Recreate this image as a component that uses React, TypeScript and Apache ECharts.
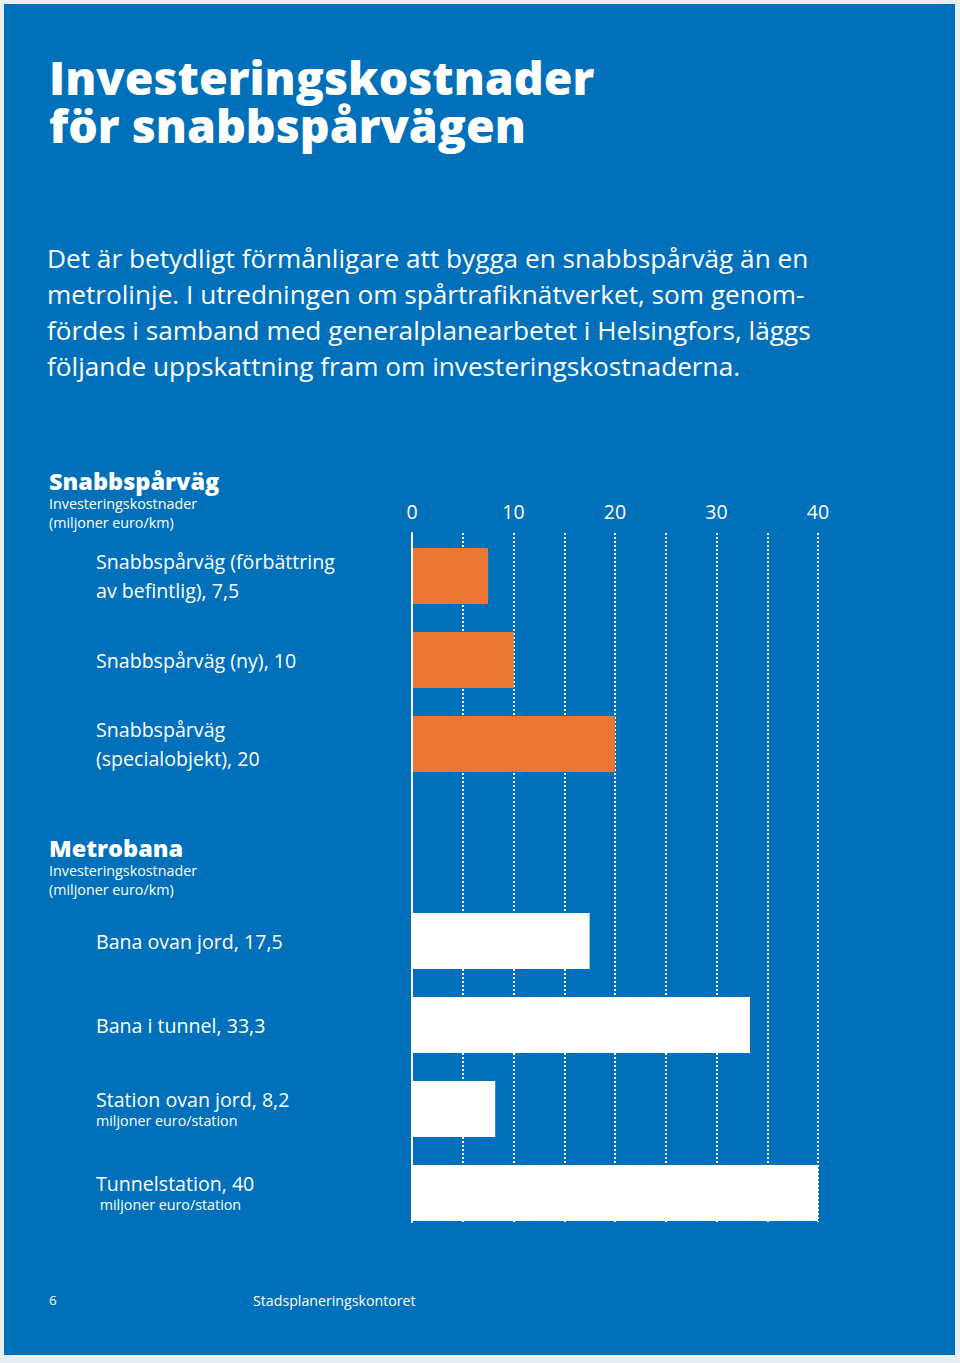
import React, { useEffect, useRef } from "react";
import * as echarts from "echarts";

const titleLines = ["Investeringskostnader", "för snabbspårvägen"];
const bodyLines = [
  "Det är betydligt förmånligare att bygga en snabbspårväg än en",
  "metrolinje. I utredningen om spårtrafiknätverket, som genom-",
  "fördes i samband med generalplanearbetet i Helsingfors, läggs",
  "följande uppskattning fram om investeringskostnaderna.",
];
const tramHeading = "Snabbspårväg";
const metroHeading = "Metrobana";
const headingSub = ["Investeringskostnader", "(miljoner euro/km)"];

const tramLabels = [
  "Snabbspårväg (förbättring\nav befintlig), 7,5",
  "Snabbspårväg (ny), 10",
  "Snabbspårväg\n(specialobjekt), 20",
];
const tramValues = [7.5, 10, 20];

const metroLabels = [
  "Bana ovan jord, 17,5",
  "Bana i tunnel, 33,3",
  "Station ovan jord, 8,2",
  "Tunnelstation, 40",
];
const metroSubLabels = ["", "", "miljoner euro/station", " miljoner euro/station"];
const metroValues = [17.5, 33.3, 8.2, 40];

const xTicks = [0, 10, 20, 30, 40];
const footerPage = "6";
const footerText = "Stadsplaneringskontoret";

const BLUE = "#0070ba";
const ORANGE = "#ec7634";
const WHITE = "#ffffff";
const FONT = "'Open Sans', sans-serif";

export default function App() {
  const ref = useRef<HTMLDivElement>(null);
  useEffect(() => {
    if (!ref.current) return;
    const chart = echarts.init(ref.current, null, { renderer: "svg" });
    const xMin = xTicks[0];
    const xMax = xTicks[xTicks.length - 1];

    const txt = (text: string, x: number, y: number, size: number, weight: any = "normal", extra: any = {}) => ({
      type: "text",
      x,
      y,
      z: 10,
      style: {
        text,
        fill: WHITE,
        fontSize: size,
        fontWeight: weight,
        fontFamily: FONT,
        textVerticalAlign: "middle",
        ...extra,
      },
    });

    const headingBlock = (title: string, top: number) => ({
      type: "text",
      x: 49,
      y: top,
      z: 10,
      style: {
        text: `{h|${title}}\n{s|${headingSub[0]}}\n{s|${headingSub[1]}}`,
        fill: WHITE,
        fontFamily: FONT,
        textVerticalAlign: "top",
        rich: {
          h: { fontSize: 23.5, fontWeight: 800, lineHeight: 25, fill: WHITE, fontFamily: FONT },
          s: { fontSize: 14.3, lineHeight: 19, fill: WHITE, fontFamily: FONT },
        },
      },
    });

    const graphics: any[] = [
      { type: "rect", z: -10, shape: { x: 4, y: 4, width: 951, height: 1351 }, style: { fill: BLUE } },
      {
        type: "text",
        x: 49,
        y: 53,
        z: 10,
        style: {
          text: titleLines.join("\n"),
          fill: WHITE,
          fontSize: 46.5,
          fontWeight: 800,
          fontFamily: FONT,
          lineHeight: 48,
          textVerticalAlign: "top",
        },
      },
      ...bodyLines.map((l, i) => txt(l, 47, 258 + i * 36, 26.2)),
      headingBlock(tramHeading, 468.5),
      headingBlock(metroHeading, 835.5),
      txt(footerPage, 49, 1300, 13.5),
      txt(footerText, 253, 1300, 14.2),
    ];

    const catAxisLabel = (lineHeight: number, subs?: string[]) => ({
      show: true,
      align: "left",
      margin: 316,
      color: WHITE,
      fontFamily: FONT,
      fontSize: 19.6,
      lineHeight,
      formatter: (v: string, i: number) => {
        const s = subs ? subs[i] : "";
        return s ? `${v}\n{sub|${s}}` : v;
      },
      rich: {
        sub: { fontSize: 14.3, lineHeight: 20, color: WHITE, fontFamily: FONT },
      },
    });

    const option: any = {
      animation: false,
      backgroundColor: "#e9eef3",
      graphic: graphics,
      grid: [
        { left: 412, right: 142, top: 533, height: 689 },
        { left: 412, right: 142, top: 534, height: 252 },
        { left: 412, right: 142, top: 899, height: 336 },
      ],
      xAxis: [
        {
          gridIndex: 0,
          type: "value",
          position: "top",
          min: xMin,
          max: xMax,
          interval: 5,
          axisLine: { show: false },
          axisTick: { show: false },
          axisLabel: {
            color: WHITE,
            fontFamily: FONT,
            fontSize: 19.5,
            margin: 12,
            formatter: (v: number) => (xTicks.includes(v) ? String(v) : ""),
          },
          splitLine: { show: true, lineStyle: { color: WHITE, width: 2, type: [2, 2] } },
        },
        { gridIndex: 1, type: "value", min: xMin, max: xMax, show: false },
        { gridIndex: 2, type: "value", min: xMin, max: xMax, show: false },
      ],
      yAxis: [
        {
          gridIndex: 0,
          type: "category",
          data: [""],
          z: 20,
          axisLine: { show: true, lineStyle: { color: WHITE, width: 2 } },
          axisTick: { show: false },
          axisLabel: { show: false },
          splitLine: { show: false },
        },
        {
          gridIndex: 1,
          type: "category",
          inverse: true,
          data: tramLabels,
          axisLine: { show: false },
          axisTick: { show: false },
          axisLabel: catAxisLabel(29),
        },
        {
          gridIndex: 2,
          type: "category",
          inverse: true,
          data: metroLabels,
          axisLine: { show: false },
          axisTick: { show: false },
          axisLabel: catAxisLabel(22, metroSubLabels),
        },
      ],
      series: [
        { type: "bar", xAxisIndex: 0, yAxisIndex: 0, data: [] },
        {
          type: "bar",
          xAxisIndex: 1,
          yAxisIndex: 1,
          barWidth: 56,
          itemStyle: { color: ORANGE },
          data: tramValues,
        },
        {
          type: "bar",
          xAxisIndex: 2,
          yAxisIndex: 2,
          barWidth: 56,
          itemStyle: { color: WHITE },
          data: metroValues,
        },
      ],
    };
    chart.setOption(option);
    return () => chart.dispose();
  }, []);

  return (
    <div
      ref={ref}
      style={{ position: "absolute", left: 0, top: 0, width: 960, height: 1363 }}
    />
  );
}
